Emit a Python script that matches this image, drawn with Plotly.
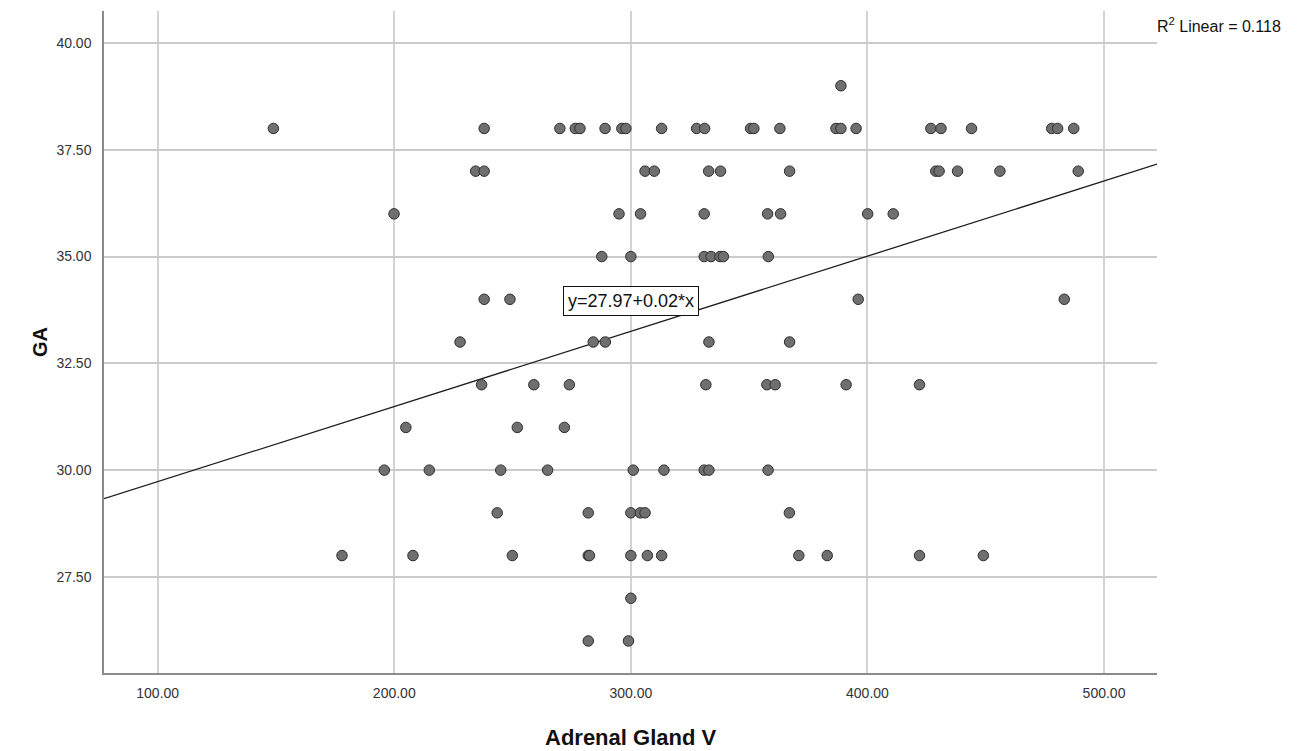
import plotly.graph_objects as go

# Data (Adrenal Gland V vs GA), grouped by GA level
ga_39 = [388.8]
ga_38 = [148.9, 238.0, 270.0, 276.5, 278.5, 289.1, 296.2, 297.9, 313.0, 327.8, 331.2,
         350.6, 352.0, 363.0, 386.7, 388.8, 395.2, 426.8, 431.1, 444.0, 477.9, 480.4, 487.2]
ga_37 = [234.4, 238.0, 306.0, 309.9, 332.9, 337.9, 367.1, 428.9, 430.3, 438.1, 456.0, 489.1]
ga_36 = [199.9, 295.0, 304.1, 331.0, 357.8, 363.3, 400.1, 410.9]
ga_35 = [287.7, 300.0, 331.0, 333.9, 337.7, 339.1, 358.1]
ga_34 = [238.0, 248.9, 396.1, 483.2]
ga_33 = [227.8, 284.1, 289.2, 333.0, 367.1]
ga_32 = [236.9, 259.0, 274.0, 331.7, 357.5, 361.0, 391.0, 422.0]
ga_31 = [204.9, 252.0, 271.9]
ga_30 = [195.8, 214.8, 245.0, 264.8, 301.0, 314.0, 331.0, 333.0, 358.0]
ga_29 = [243.5, 282.0, 300.0, 304.0, 306.0, 367.0]
ga_28 = [177.9, 207.9, 249.9, 282.0, 282.5, 300.0, 307.0, 313.0, 371.0, 383.0, 422.0, 449.0]
ga_27 = [300.0]
ga_26 = [282.0, 299.0]

groups = [(39, ga_39), (38, ga_38), (37, ga_37), (36, ga_36), (35, ga_35), (34, ga_34),
          (33, ga_33), (32, ga_32), (31, ga_31), (30, ga_30), (29, ga_29), (28, ga_28),
          (27, ga_27), (26, ga_26)]

adrenal_v = [v for g, vals in groups for v in vals]
ga = [g for g, vals in groups for v in vals]

# Fit line as shown
intercept = 27.97
slope = 0.0176
x_range = [77.3, 522.4]
y_range = [25.25, 40.75]
x_ticks = [100, 200, 300, 400, 500]
y_ticks = [27.5, 30.0, 32.5, 35.0, 37.5, 40.0]

fig = go.Figure()
fig.add_trace(go.Scatter(
    x=x_range, y=[intercept + slope * x for x in x_range],
    mode="lines", line=dict(color="#1e1e1e", width=1.3),
    hoverinfo="skip", showlegend=False))
fig.add_trace(go.Scatter(
    x=adrenal_v, y=ga, mode="markers",
    marker=dict(size=10.5, color="#6f6f6f", line=dict(color="#2e2e2e", width=1)),
    showlegend=False))

fig.update_layout(
    width=1308, height=751,
    margin=dict(l=104, r=151, t=11, b=78),
    paper_bgcolor="white", plot_bgcolor="white",
    font=dict(family="Liberation Sans, Arial, sans-serif", color="#222"),
)
fig.update_xaxes(
    range=x_range, tickvals=x_ticks, ticktext=[f"{v:.2f}" for v in x_ticks],
    showgrid=True, gridcolor="#d3d3d3", gridwidth=1.5, zeroline=False,
    showline=True, linecolor="#8a8a8a", linewidth=1.5,
    ticks="outside", ticklen=6, tickcolor="rgba(0,0,0,0)",
    tickfont=dict(size=14, color="#333"))
fig.update_yaxes(
    range=y_range, tickvals=y_ticks, ticktext=[f"{v:.2f}" for v in y_ticks],
    showgrid=True, gridcolor="#cbcbcb", gridwidth=1.5, zeroline=False,
    showline=True, linecolor="#8a8a8a", linewidth=1.5,
    ticks="outside", ticklen=8, tickcolor="rgba(0,0,0,0)",
    tickfont=dict(size=14, color="#333"))

fig.add_annotation(
    xref="paper", yref="paper", x=0.5, y=0, yshift=-64, yanchor="middle",
    text="<b>Adrenal Gland V</b>", showarrow=False,
    font=dict(size=22, color="#111"))
fig.add_annotation(
    xref="paper", yref="paper", x=0, xshift=-64, y=0.5, textangle=-90,
    xanchor="center", text="<b>GA</b>", showarrow=False,
    font=dict(size=20, color="#111"))
fig.add_annotation(
    xref="paper", yref="paper", x=1, xshift=-2, xanchor="left", y=1, yshift=-14,
    yanchor="middle", text="R<sup>2</sup> Linear = 0.118", showarrow=False,
    font=dict(size=16, color="#111"))
fig.add_annotation(
    x=300, y=33.96, text="y=27.97+0.02*x", showarrow=False,
    bgcolor="white", bordercolor="#111", borderwidth=1, borderpad=4,
    font=dict(size=18, color="#111"))

fig.write_html("out.html", config={"displayModeBar": False},
               post_script="document.body.style.margin='0';")
